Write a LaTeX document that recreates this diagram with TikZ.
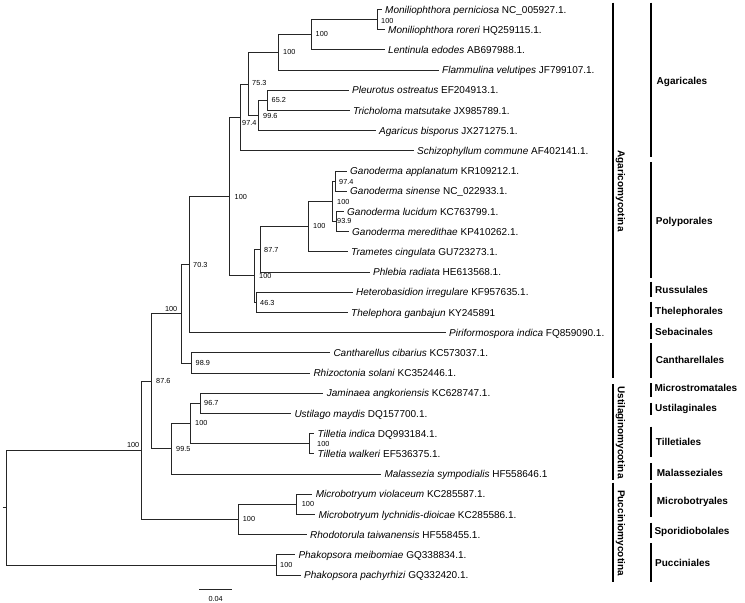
\documentclass[tikz,border=0pt]{standalone}
\usepackage{fontspec}
\setmainfont{Liberation Sans}
\begin{document}
\begin{tikzpicture}[x=1bp,y=-1bp,
  branch/.style={line width=0.9bp, draw=black!85},
  bracket/.style={line width=1.6bp, draw=black},
  leaf/.style={anchor=west, inner xsep=3.3bp, inner ysep=0pt, text height=7.2bp, text depth=0pt, font=\fontsize{10bp}{12bp}\selectfont},
  bs/.style={anchor=west, inner sep=0pt, text height=5.2bp, text depth=0pt, font=\fontsize{7.3bp}{9bp}\selectfont},
  bse/.style={bs, anchor=east},
  ord/.style={anchor=west, inner sep=0pt, text height=7.2bp, text depth=0pt, font=\bfseries\fontsize{10bp}{12bp}\selectfont},
  sub/.style={rotate=-90, inner sep=0pt, text height=7.2bp, text depth=2.1bp, font=\bfseries\fontsize{10bp}{12bp}\selectfont}]
\useasboundingbox (0,0) rectangle (745,603);

% leaves
\node[leaf] (L1) at (381.7,9.5) {\textit{Moniliophthora perniciosa} NC\_005927.1.};
\node[leaf] (L2) at (384.7,29.7) {\textit{Moniliophthora roreri} HQ259115.1.};
\node[leaf] (L3) at (384.7,49.9) {\textit{Lentinula edodes} AB697988.1.};
\node[leaf] (L4) at (438.7,70.1) {\textit{Flammulina velutipes} JF799107.1.};
\node[leaf] (L5) at (348.7,90.3) {\textit{Pleurotus ostreatus} EF204913.1.};
\node[leaf] (L6) at (349.7,110.5) {\textit{Tricholoma matsutake} JX985789.1.};
\node[leaf] (L7) at (375.7,130.7) {\textit{Agaricus bisporus} JX271275.1.};
\node[leaf] (L8) at (413.7,150.9) {\textit{Schizophyllum commune} AF402141.1.};
\node[leaf] (L9) at (346.7,171.1) {\textit{Ganoderma applanatum} KR109212.1.};
\node[leaf] (L10) at (346.7,191.3) {\textit{Ganoderma sinense} NC\_022933.1.};
\node[leaf] (L11) at (343.7,211.5) {\textit{Ganoderma lucidum} KC763799.1.};
\node[leaf] (L12) at (348.7,231.7) {\textit{Ganoderma meredithae} KP410262.1.};
\node[leaf] (L13) at (347.7,251.9) {\textit{Trametes cingulata} GU723273.1.};
\node[leaf] (L14) at (369.7,272.1) {\textit{Phlebia radiata} HE613568.1.};
\node[leaf] (L15) at (352.7,292.3) {\textit{Heterobasidion irregulare} KF957635.1.};
\node[leaf] (L16) at (347.7,312.5) {\textit{Thelephora ganbajun} KY245891};
\node[leaf] (L17) at (445.7,332.7) {\textit{Piriformospora indica} FQ859090.1.};
\node[leaf] (L18) at (330,352.9) {\textit{Cantharellus cibarius} KC573037.1.};
\node[leaf] (L19) at (310,373.1) {\textit{Rhizoctonia solani} KC352446.1.};
\node[leaf] (L20) at (323.4,393.3) {\textit{Jaminaea angkoriensis} KC628747.1.};
\node[leaf] (L21) at (291,413.5) {\textit{Ustilago maydis} DQ157700.1.};
\node[leaf] (L22) at (314,433.7) {\textit{Tilletia indica} DQ993184.1.};
\node[leaf] (L23) at (314,453.9) {\textit{Tilletia walkeri} EF536375.1.};
\node[leaf] (L24) at (381,474.1) {\textit{Malassezia sympodialis} HF558646.1};
\node[leaf] (L25) at (312.4,494.3) {\textit{Microbotryum violaceum} KC285587.1.};
\node[leaf] (L26) at (315,514.5) {\textit{Microbotryum lychnidis-dioicae} KC285586.1.};
\node[leaf] (L27) at (306.7,534.7) {\textit{Rhodotorula taiwanensis} HF558455.1.};
\node[leaf] (L28) at (295,554.9) {\textit{Phakopsora meibomiae} GQ338834.1.};
\node[leaf] (L29) at (300.7,575.1) {\textit{Phakopsora pachyrhizi} GQ332420.1.};

% internal nodes
\coordinate (nmon) at (377,19.6);
\coordinate (nlen) at (311,34.75);
\coordinate (nfla) at (278,52.4);
\coordinate (nple) at (267.7,100.4);
\coordinate (n996) at (258,115.55);
\coordinate (n753) at (248.7,83.98);
\coordinate (n974) at (240,117.44);
\coordinate (ngas) at (335,181.2);
\coordinate (nglm) at (336,221.6);
\coordinate (ngan) at (332.7,201.4);
\coordinate (ntra) at (308,226.65);
\coordinate (n877) at (260,249.4);
\coordinate (n463) at (256,302.4);
\coordinate (npol) at (254.3,275.9);
\coordinate (nap) at (229.3,196.7);
\coordinate (n703) at (189.3,264.7);
\coordinate (n989) at (191.7,363);
\coordinate (nagm) at (181,313.85);
\coordinate (n967) at (200,403.4);
\coordinate (ntil) at (309.3,443.8);
\coordinate (nust) at (190,423.6);
\coordinate (n995) at (171.7,448.85);
\coordinate (n876) at (151.7,381.35);
\coordinate (nmic) at (296.7,504.4);
\coordinate (nrho) at (238.7,519.55);
\coordinate (nbas) at (141.7,450.45);
\coordinate (npha) at (276,565);
\coordinate (root) at (6.7,507.7);
\coordinate (stub) at (2.7,507.7);

% branches
\begin{scope}[branch]
\draw (nmon) |- (L1.west); \draw (nmon) |- (L2.west);
\draw (nlen) |- (nmon); \draw (nlen) |- (L3.west);
\draw (nfla) |- (nlen); \draw (nfla) |- (L4.west);
\draw (nple) |- (L5.west); \draw (nple) |- (L6.west);
\draw (n996) |- (nple); \draw (n996) |- (L7.west);
\draw (n753) |- (nfla); \draw (n753) |- (n996);
\draw (n974) |- (n753); \draw (n974) |- (L8.west);
\draw (ngas) |- (L9.west); \draw (ngas) |- (L10.west);
\draw (nglm) |- (L11.west); \draw (nglm) |- (L12.west);
\draw (ngan) |- (ngas); \draw (ngan) |- (nglm);
\draw (ntra) |- (ngan); \draw (ntra) |- (L13.west);
\draw (n877) |- (ntra); \draw (n877) |- (L14.west);
\draw (n463) |- (L15.west); \draw (n463) |- (L16.west);
\draw (npol) |- (n877); \draw (npol) |- (n463);
\draw (nap) |- (n974); \draw (nap) |- (npol);
\draw (n703) |- (nap); \draw (n703) |- (L17.west);
\draw (n989) |- (L18.west); \draw (n989) |- (L19.west);
\draw (nagm) |- (n703); \draw (nagm) |- (n989);
\draw (n967) |- (L20.west); \draw (n967) |- (L21.west);
\draw (ntil) |- (L22.west); \draw (ntil) |- (L23.west);
\draw (nust) |- (n967); \draw (nust) |- (ntil);
\draw (n995) |- (nust); \draw (n995) |- (L24.west);
\draw (n876) |- (nagm); \draw (n876) |- (n995);
\draw (nmic) |- (L25.west); \draw (nmic) |- (L26.west);
\draw (nrho) |- (nmic); \draw (nrho) |- (L27.west);
\draw (nbas) |- (n876); \draw (nbas) |- (nrho);
\draw (npha) |- (L28.west); \draw (npha) |- (L29.west);
\draw (root) |- (nbas); \draw (root) |- (npha);
\draw (stub) -- (root);
\end{scope}

% bootstrap values
\node[bs] (b1) at (381,20.5) {100};
\node[bs] (b2) at (315.5,34.3) {100};
\node[bs] (b3) at (283,51.7) {100};
\node[bs] (b4) at (252,83.3) {75.3};
\node[bs] (b5) at (271.5,100) {65.2};
\node[bs] (b6) at (263,115.7) {99.6};
\node[bs] (b7) at (242,122.7) {97.4};
\node[bs] (b8) at (339,181.7) {97.4};
\node[bs] (b9) at (337,201.7) {100};
\node[bs] (b10) at (337,220.7) {93.9};
\node[bs] (b11) at (313,226) {100};
\node[bs] (b12) at (264,250) {87.7};
\node[bs] (b13) at (259,276) {100};
\node[bs] (b14) at (260,303) {46.3};
\node[bs] (b15) at (234.5,196.7) {100};
\node[bs] (b16) at (193,265) {70.3};
\node[bs] (b17) at (195.5,363) {98.9};
\node[bse] (b18) at (177.5,309) {100};
\node[bs] (b19) at (204,403) {96.7};
\node[bs] (b20) at (317,444) {100};
\node[bs] (b21) at (195,423) {100};
\node[bs] (b22) at (176,449) {99.5};
\node[bs] (b23) at (156,381) {87.6};
\node[bs] (b24) at (301.7,504) {100};
\node[bs] (b25) at (242.7,519) {100};
\node[bse] (b26) at (139.5,445) {100};
\node[bs] (b27) at (280,565) {100};

% scale bar
\coordinate (sb1) at (199,589);
\coordinate (sb2) at (232.3,589);
\draw[branch] (sb1) -- (sb2);
\node[bs, anchor=center] (sbl) at (215.7,598.5) {0.04};

% subphylum brackets
\draw[bracket] (612.7,2.7) -- (612.7,378);
\draw[bracket] (612.7,384) -- (612.7,480);
\draw[bracket] (612.7,482.7) -- (612.7,581.7);
\node[sub] (s1) at (620.5,191) {Agaricomycotina};
\node[sub] (s2) at (620.5,432.5) {Ustilaginomycotina};
\node[sub] (s3) at (620.5,533) {Pucciniomycotina};

% order brackets
\draw[bracket] (651,2.7) -- (651,157);
\draw[bracket] (651,162) -- (651,278);
\draw[bracket] (651,281.7) -- (651,296.7);
\draw[bracket] (651,301.7) -- (651,316.7);
\draw[bracket] (651,322.7) -- (651,339);
\draw[bracket] (651,343) -- (651,378);
\draw[bracket] (651,383) -- (651,396.7);
\draw[bracket] (651,402.7) -- (651,415);
\draw[bracket] (651,426.7) -- (651,456.7);
\draw[bracket] (651,463) -- (651,480);
\draw[bracket] (651,482.7) -- (651,516.7);
\draw[bracket] (651,522.7) -- (651,538.3);
\draw[bracket] (651,543.3) -- (651,581.7);
\node[ord] (o1) at (656.5,81) {Agaricales};
\node[ord] (o2) at (655.7,220.7) {Polyporales};
\node[ord] (o3) at (655,290) {Russulales};
\node[ord] (o4) at (655,311) {Thelephorales};
\node[ord] (o5) at (655,332) {Sebacinales};
\node[ord] (o6) at (655.7,360) {Cantharellales};
\node[ord] (o7) at (654.3,388) {Microstromatales};
\node[ord] (o8) at (655,408) {Ustilaginales};
\node[ord] (o9) at (655.7,441.7) {Tilletiales};
\node[ord] (o10) at (656.7,472.7) {Malasseziales};
\node[ord] (o11) at (656.7,501) {Microbotryales};
\node[ord] (o12) at (654.3,530.7) {Sporidiobolales};
\node[ord] (o13) at (655,563.3) {Pucciniales};
\end{tikzpicture}
\end{document}
